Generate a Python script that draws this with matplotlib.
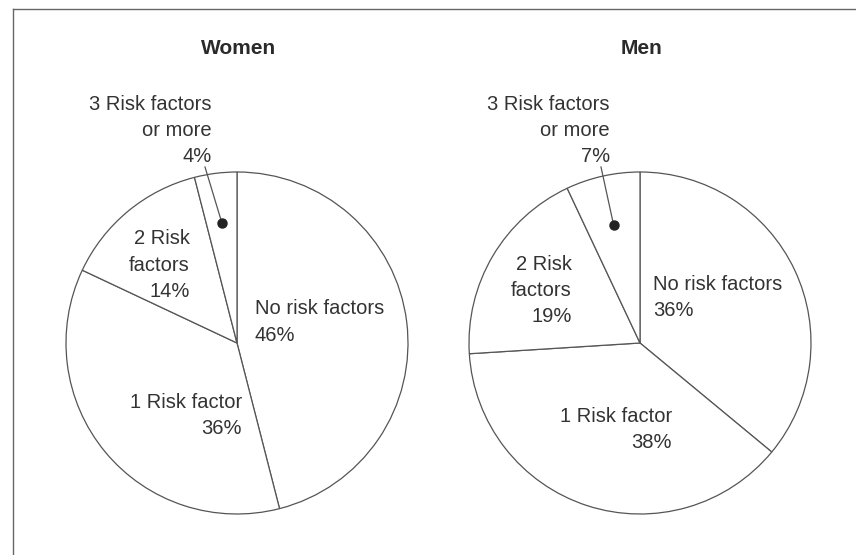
import matplotlib
matplotlib.use("Agg")
import matplotlib.pyplot as plt
import numpy as np

# Shares of people by number of risk factors (percent)
categories = ["No risk factors", "1 Risk factor", "2 Risk factors", "3 Risk factors or more"]
women = [46, 36, 14, 4]
men = [36, 38, 19, 7]
panel_titles = ["Women", "Men"]

W, H = 856, 555
fig = plt.figure(figsize=(W / 100, H / 100), dpi=100)
fig.patch.set_facecolor("white")
ax = fig.add_axes([0, 0, 1, 1])
ax.set_axis_off()

EDGE = "#555555"
TXT = "#333333"
FONT = "Liberation Sans"
FS = 14.5
R = 171

def Y(y):
    # convert a top-down pixel row into axes units
    return H - y

panels = [
    dict(vals=women, title=panel_titles[0], cx=237, cy=343,
         lab3=(212, 103), lab2=(190, 238), lab0=(255, 308), lab1=(242, 401),
         lead=(205, 167)),
    dict(vals=men, title=panel_titles[1], cx=640, cy=343,
         lab3=(610, 103), lab2=(572, 263), lab0=(653, 283), lab1=(672, 415),
         lead=(601, 167)),
]

for p in panels:
    v = p["vals"]
    ax.pie(v, center=(p["cx"], Y(p["cy"])), radius=R, startangle=90,
           counterclock=False,
           wedgeprops=dict(facecolor="white", edgecolor=EDGE, linewidth=0.9))
    ax.text(p["cx"] + 2, Y(48), p["title"], ha="center", va="center",
            fontsize=15, fontweight="bold", color="#2a2a2a", family=FONT)

    kw = dict(fontsize=FS, color=TXT, family=FONT, linespacing=1.47)
    x, y = p["lab3"]
    ax.text(x, Y(y - 8.5), f"3 Risk factors\nor more\n{v[3]}%", ha="right",
            va="top", multialignment="right", **kw)
    x, y = p["lab2"]
    ax.text(x, Y(y - 8.5), f"2 Risk\nfactors\n{v[2]}%", ha="right", va="top",
            multialignment="right", **kw)
    x, y = p["lab0"]
    ax.text(x, Y(y - 8.5), f"No risk factors\n{v[0]}%", ha="left", va="top",
            multialignment="left", **kw)
    x, y = p["lab1"]
    ax.text(x, Y(y - 8.5), f"1 Risk factor\n{v[1]}%", ha="right", va="top",
            multialignment="right", **kw)

    # leader line to a dot inside the smallest wedge
    frac_start = sum(v[:3]) / sum(v)
    frac_mid = frac_start + v[3] / sum(v) / 2
    ang = np.deg2rad(90 - 360 * frac_mid)
    dx = p["cx"] + 0.71 * R * np.cos(ang)
    dy = Y(p["cy"]) + 0.71 * R * np.sin(ang)
    lx, ly = p["lead"]
    ax.plot([lx, dx], [Y(ly), dy], color=EDGE, lw=0.9)
    ax.plot([dx], [dy], marker="o", ms=6.5, color="#222222")

# frame: top and left rules
ax.plot([13, W], [Y(9), Y(9)], color="#666666", lw=1.0)
ax.plot([13, 13], [Y(9), 0], color="#666666", lw=1.0)

ax.set_xlim(0, W)
ax.set_ylim(0, H)
ax.set_aspect("auto")

fig.savefig("out.png", dpi=100, facecolor="white")
